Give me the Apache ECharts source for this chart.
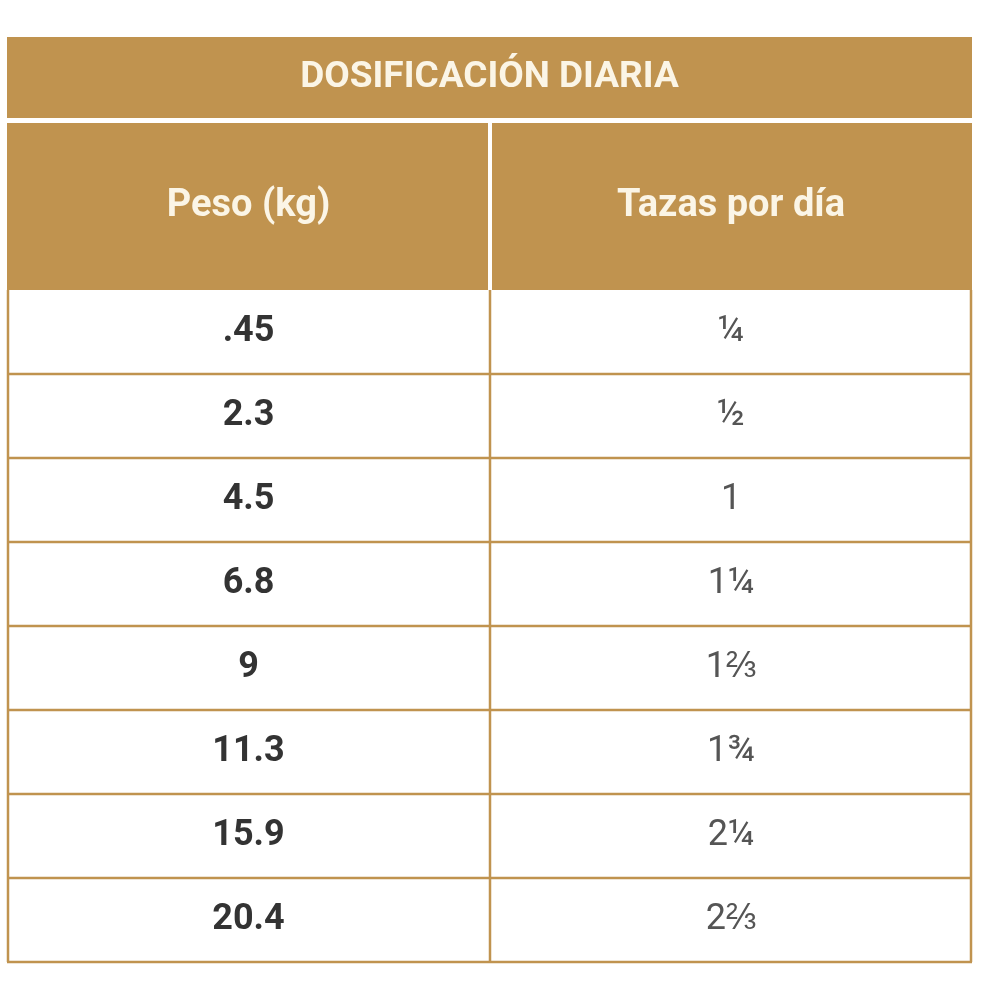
<!DOCTYPE html>
<html lang="es">
<head>
    <meta charset="UTF-8">
    <title>Dosificación diaria</title>
    <script src="https://cdn.jsdelivr.net/npm/echarts@6/dist/echarts.min.js"></script>
    <style>html,body{margin:0;padding:0;background:#fff;}</style>
</head>
<body>
<div id="main" style="width:1000px;height:1000px;"></div>
<script type="text/javascript">
    var title = "DOSIFICACIÓN DIARIA";
    var headers = ["Peso (kg)", "Tazas por día"];
    var pesos = [".45", "2.3", "4.5", "6.8", "9", "11.3", "15.9", "20.4"];
    var tazas = ["¼", "½", "1", "1¼", "1⅔", "1¾", "2¼", "2⅔"];

    var myChart = echarts.init(document.getElementById("main"));

    var gold = "#c0934f";
    var L = 7, R = 972, M = 490;
    var rowTop = 290, rowH = 84;
    var font = "Roboto, 'Liberation Sans', sans-serif";

    var els = [];
    // banda del título
    els.push({type: "rect", shape: {x: L, y: 37, width: R - L, height: 81}, style: {fill: gold}});
    els.push({type: "text", x: (L + R) / 2, y: 78, style: {text: title, fill: "#fbf5e6",
        font: "bold 37px " + font, align: "center", verticalAlign: "middle"}});
    // cabecera
    els.push({type: "rect", shape: {x: L, y: 123, width: M - L - 2, height: rowTop - 123}, style: {fill: gold}});
    els.push({type: "rect", shape: {x: M + 2, y: 123, width: R - M - 2, height: rowTop - 123}, style: {fill: gold}});
    els.push({type: "text", x: (L + M) / 2, y: 206, style: {text: headers[0], fill: "#fbf5e6",
        font: "bold 38px " + font, align: "center", verticalAlign: "middle"}});
    els.push({type: "text", x: (M + R) / 2, y: 206, style: {text: headers[1], fill: "#fbf5e6",
        font: "bold 38px " + font, align: "center", verticalAlign: "middle"}});

    // filas
    pesos.forEach(function (p, i) {
        var y = rowTop + i * rowH;
        els.push({type: "text", x: (L + M) / 2, y: y + rowH / 2, style: {text: p, fill: "#333",
            font: "bold 36px " + font, align: "center", verticalAlign: "middle"}});
        els.push({type: "text", x: (M + R) / 2, y: y + rowH / 2, style: {text: tazas[i], fill: "#555",
            font: "36px " + font, align: "center", verticalAlign: "middle"}});
        els.push({type: "line", shape: {x1: L, y1: y + rowH, x2: R, y2: y + rowH},
            style: {stroke: gold, lineWidth: 2.5}});
    });
    var bottom = rowTop + pesos.length * rowH;
    els.push({type: "line", shape: {x1: L + 1, y1: rowTop, x2: L + 1, y2: bottom}, style: {stroke: gold, lineWidth: 2.5}});
    els.push({type: "line", shape: {x1: R - 1, y1: rowTop, x2: R - 1, y2: bottom}, style: {stroke: gold, lineWidth: 2.5}});
    els.push({type: "line", shape: {x1: M, y1: rowTop, x2: M, y2: bottom}, style: {stroke: gold, lineWidth: 2.5}});

    myChart.setOption({animation: false, graphic: {elements: els}});
</script>
</body>
</html>
